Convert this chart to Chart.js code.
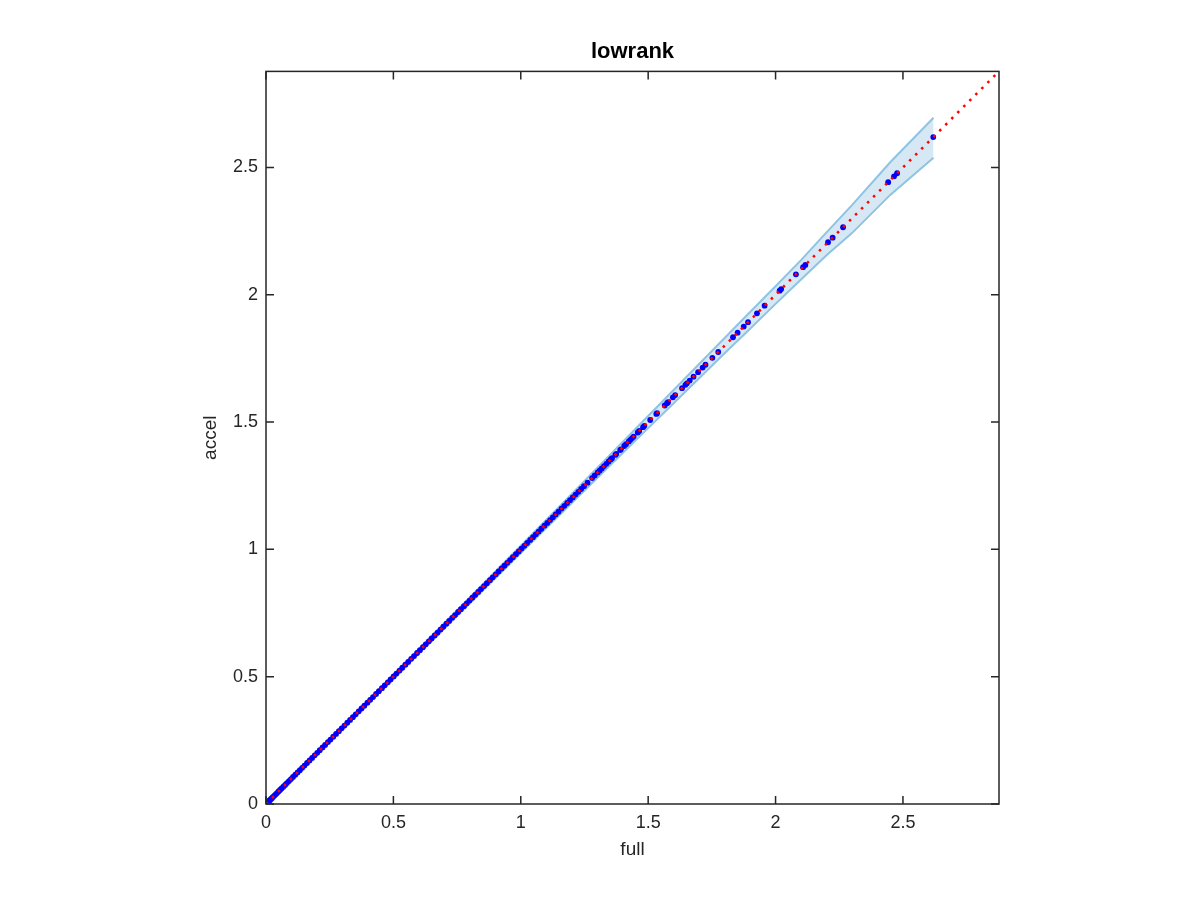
<!DOCTYPE html>
<html>
<head>
<meta charset="utf-8">
<script src="https://cdn.jsdelivr.net/npm/chart.js@4/dist/chart.umd.min.js"></script>
<style>
  body { margin: 0; background: #fff; }
  canvas { display: block; }
</style>
</head>
<body>
<canvas id="lowrank-chart" width="1200" height="900"></canvas>
<script>
// blue dots: full vs accel (they sit on the diagonal)
var fullVals = [
  0, 0.002, 0.004, 0.007, 0.01, 0.013, 0.016, 0.02, 0.024, 0.028, 0.033, 0.038, 0.043, 0.049, 0.055,
  0.061, 0.068, 0.075, 0.082, 0.09, 0.098, 0.106, 0.115, 0.124, 0.133, 0.142, 0.151, 0.161, 0.171,
  0.181, 0.191, 0.201, 0.211, 0.222, 0.232, 0.243, 0.253, 0.264, 0.275, 0.286, 0.297, 0.308, 0.319,
  0.33, 0.341, 0.352, 0.364, 0.375, 0.386, 0.398, 0.409, 0.42, 0.432, 0.443, 0.455, 0.466, 0.478,
  0.489, 0.501, 0.512, 0.524, 0.535, 0.547, 0.558, 0.57, 0.581, 0.593, 0.604, 0.616, 0.627, 0.639,
  0.65, 0.662, 0.673, 0.685, 0.696, 0.708, 0.719, 0.731, 0.742, 0.754, 0.765, 0.777, 0.788, 0.799,
  0.81, 0.821, 0.833, 0.844, 0.856, 0.867, 0.879, 0.89, 0.902, 0.913, 0.925, 0.936, 0.947, 0.958,
  0.969, 0.981, 0.992, 1.003, 1.014, 1.025, 1.037, 1.048, 1.059, 1.07, 1.081, 1.093, 1.104, 1.115,
  1.126, 1.137, 1.148, 1.16, 1.171, 1.182, 1.193, 1.204, 1.215, 1.226, 1.237, 1.248, 1.262, 1.28,
  1.29, 1.302, 1.31, 1.318, 1.327, 1.336, 1.345, 1.353, 1.358, 1.371, 1.375, 1.39, 1.393, 1.406,
  1.413, 1.424, 1.43, 1.437, 1.443, 1.459, 1.465, 1.48, 1.485, 1.508, 1.532, 1.535, 1.565, 1.574,
  1.578, 1.597, 1.606, 1.633, 1.646, 1.652, 1.663, 1.678, 1.696, 1.714, 1.725, 1.752, 1.775, 1.833,
  1.851, 1.875, 1.892, 1.927, 1.957, 2.016, 2.022, 2.08, 2.108, 2.117, 2.206, 2.224, 2.265, 2.442,
  2.465, 2.477, 2.619
];
var accelVals = fullVals.slice(); // accel matches full to plot precision

// shaded band around the diagonal
var bandX     = [0, 0.5, 1.0, 1.2, 1.3, 1.4, 1.5, 1.6, 1.7, 1.8, 1.9, 2.0, 2.1, 2.2, 2.3, 2.45, 2.62];
var bandUpper = [0, 0.508, 1.014, 1.218, 1.32, 1.422, 1.524, 1.626, 1.728, 1.83, 1.932, 2.033, 2.136, 2.245, 2.352, 2.52, 2.695];
var bandLower = [0, 0.492, 0.986, 1.182, 1.28, 1.378, 1.476, 1.574, 1.672, 1.77, 1.866, 1.964, 2.06, 2.155, 2.242, 2.392, 2.538];

// red reference line y = x
var refX = [0, 2.877];

var axisMax = 2.877;
var tickVals = [0, 0.5, 1, 1.5, 2, 2.5];

var inkColor = "#262626";
var fontFamily = "Liberation Sans, Arial, sans-serif";

function pairs(xs, ys) {
  return xs.map(function (x, i) { return { x: x, y: ys[i] }; });
}

// MATLAB style box with inward ticks on all four sides
var boxPlugin = {
  id: "matlabBox",
  afterDatasetsDraw: function (chart) {
    var ctx = chart.ctx;
    var a = chart.chartArea;
    var xs = chart.scales.x, ys = chart.scales.y;
    var len = 8;
    ctx.save();
    ctx.strokeStyle = inkColor;
    ctx.lineWidth = 1.5;
    ctx.beginPath();
    tickVals.forEach(function (v) {
      var px = xs.getPixelForValue(v);
      var py = ys.getPixelForValue(v);
      ctx.moveTo(px, a.bottom); ctx.lineTo(px, a.bottom - len);
      ctx.moveTo(px, a.top); ctx.lineTo(px, a.top + len);
      ctx.moveTo(a.left, py); ctx.lineTo(a.left + len, py);
      ctx.moveTo(a.right, py); ctx.lineTo(a.right - len, py);
    });
    ctx.stroke();
    ctx.strokeRect(a.left, a.top, a.right - a.left, a.bottom - a.top);
    ctx.restore();
  }
};

var keepTicks = function (axis) {
  axis.ticks = tickVals.map(function (v) { return { value: v }; });
};
var plainLabel = function (value) { return String(value); };

var config = {
  type: "scatter",
  data: {
    datasets: [
      {
        label: "y = x",
        data: pairs(refX, refX),
        showLine: true,
        borderColor: "#ff0000",
        borderWidth: 2.5,
        borderDash: [2.5, 6],
        pointRadius: 0,
        fill: false
      },
      {
        label: "accel",
        data: pairs(fullVals, accelVals),
        showLine: false,
        pointRadius: 2.9,
        pointBorderWidth: 0,
        pointBackgroundColor: "#0000ff",
        pointBorderColor: "#0000ff"
      },
      {
        label: "lower",
        data: pairs(bandX, bandLower),
        showLine: true,
        borderColor: "#8fc3e4",
        borderWidth: 2,
        pointRadius: 0,
        fill: false
      },
      {
        label: "upper",
        data: pairs(bandX, bandUpper),
        showLine: true,
        borderColor: "#8fc3e4",
        borderWidth: 2,
        pointRadius: 0,
        backgroundColor: "#d6e8f4",
        fill: "-1"
      }
    ]
  },
  options: {
    responsive: false,
    animation: false,
    layout: { padding: { left: 0, top: 0, right: 201, bottom: 0 } },
    plugins: {
      legend: { display: false },
      tooltip: { enabled: false },
      title: {
        display: true,
        fullSize: false,
        text: "lowrank",
        color: "#000",
        font: { family: fontFamily, size: 22, weight: "bold" },
        padding: { top: 39, bottom: 6 }
      }
    },
    scales: {
      x: {
        type: "linear",
        min: 0,
        max: axisMax,
        afterBuildTicks: keepTicks,
        afterFit: function (s) { s.height = 96; },
        grid: { display: false, drawTicks: false },
        border: { display: false },
        ticks: {
          padding: 8,
          color: inkColor,
          font: { family: fontFamily, size: 18 },
          maxRotation: 0,
          callback: plainLabel
        },
        title: {
          display: true,
          text: "full",
          color: inkColor,
          font: { family: fontFamily, size: 19 },
          padding: { top: 0, bottom: 39 }
        }
      },
      y: {
        type: "linear",
        min: 0,
        max: axisMax,
        afterBuildTicks: keepTicks,
        afterFit: function (s) { s.width = 266; },
        grid: { display: false, drawTicks: false },
        border: { display: false },
        ticks: {
          padding: 8,
          color: inkColor,
          font: { family: fontFamily, size: 18 },
          callback: plainLabel
        },
        title: {
          display: true,
          text: "accel",
          color: inkColor,
          font: { family: fontFamily, size: 19 },
          padding: { top: 199, bottom: 0 }
        }
      }
    }
  },
  plugins: [boxPlugin]
};

var lowrankChart = new Chart(document.getElementById("lowrank-chart"), config);
</script>
</body>
</html>
